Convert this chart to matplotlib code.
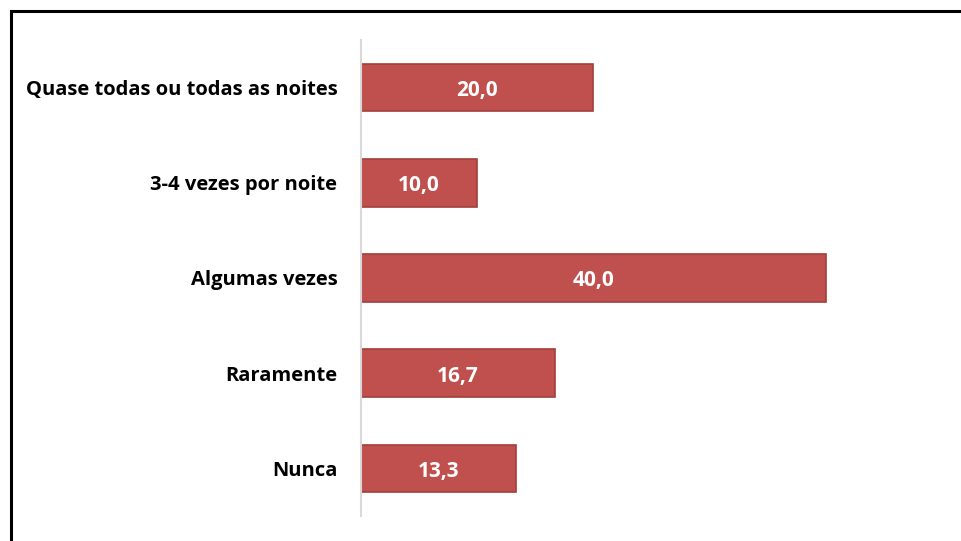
import numpy as np
import matplotlib.pyplot as plt
from matplotlib.patches import Rectangle

categories = ['Quase todas ou todas as noites', '3-4 vezes por noite',
              'Algumas vezes', 'Raramente', 'Nunca']
values = [20.0, 10.0, 40.0, 16.7, 13.3]

W, H = 961, 541
fig = plt.figure(figsize=(W / 100, H / 100), dpi=100)
plt.rcParams['font.family'] = ['Open Sans', 'DejaVu Sans']

# frame around the chart (cropped on right and bottom)
fig.patches.append(Rectangle((11 / W, -0.1), 1.2, 1 - 11 / H + 0.1,
                             transform=fig.transFigure, fill=False,
                             edgecolor='black', linewidth=2.2))

ax = fig.add_axes([361 / W, 1 - 516 / H, 523 / W, 476 / H])
y = np.arange(len(categories))
ax.barh(y, values, height=0.5, color='#C0504D', edgecolor='#A33F3C',
        linewidth=1.2)
for yi, v in zip(y, values):
    ax.text(v / 2, yi + 0.03, ('%.1f' % v).replace('.', ','), ha='center',
            va='center', color='white', fontsize=15, fontweight='bold')

ax.set_xlim(0, 45)
ax.set_ylim(len(categories) - 0.5, -0.5)
ax.set_yticks(y)
ax.set_yticklabels(categories, fontsize=14.5, fontweight='bold')
ax.tick_params(axis='y', length=0, pad=17)
ax.set_xticks([])
for s in ['top', 'right', 'bottom']:
    ax.spines[s].set_visible(False)
ax.spines['left'].set_color('#D9D9D9')
ax.spines['left'].set_linewidth(1.5)

fig.savefig('out.png', dpi=100)
